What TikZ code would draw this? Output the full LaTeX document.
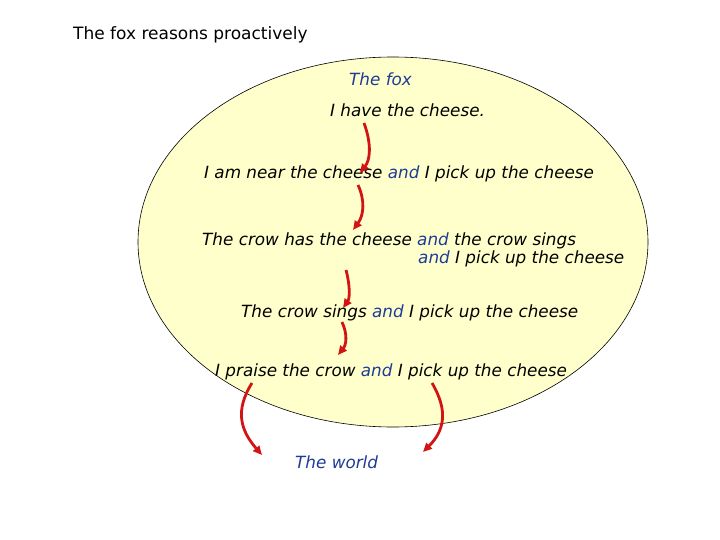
\documentclass[tikz,border=0pt]{standalone}
\usepackage{fontspec}
\setmainfont{DejaVu Sans}
\usetikzlibrary{arrows.meta}
\definecolor{cheese}{RGB}{255,255,204}
\definecolor{andblue}{RGB}{30,60,150}
\definecolor{arrred}{RGB}{210,20,20}
\tikzset{
  txt/.style={anchor=west, inner sep=0pt, font=\fontsize{16.8}{19}\selectfont\itshape},
  ttl/.style={anchor=west, inner sep=0pt, font=\fontsize{17}{19}\selectfont},
  flow/.style={draw=arrred, line width=2.8pt, -{Triangle[length=9pt,width=8pt]}},
}
\newcommand{\andw}{\textcolor{andblue}{and}}
\begin{document}
\begin{tikzpicture}[x=1pt,y=-1pt]
\useasboundingbox (0,0) rectangle (720,540);
\fill[white] (0,0) rectangle (720,540);
\draw[fill=cheese, line width=0.6pt] (393,242) ellipse [x radius=255, y radius=185];
\node[ttl] (title) at (73,35) {The fox reasons proactively};
\node[txt, text=andblue] (fox) at (349,79) {The fox};
\node[txt] (s1) at (330,110) {I have the cheese.};
\node[txt] (s2) at (204,174) {I am near the cheese \andw{} I pick up the cheese};
\node[txt] (s3a) at (202,241) {The crow has the cheese \andw{} the crow sings};
\node[txt] (s3b) at (418,259) {\andw{} I pick up the cheese};
\node[txt] (s4) at (241,313) {The crow sings \andw{} I pick up the cheese};
\node[txt] (s5) at (215,372) {I praise the crow \andw{} I pick up the cheese};
\node[txt, text=andblue] (world) at (295,462) {The world};
\coordinate (p1a) at (364,123); \coordinate (p1b) at (360,173);
\coordinate (p2a) at (358,185); \coordinate (p2b) at (353,230);
\coordinate (p3a) at (346,270); \coordinate (p3b) at (343,308);
\coordinate (p4a) at (342,322); \coordinate (p4b) at (338,355);
\coordinate (p5a) at (252,383); \coordinate (p5b) at (262,455);
\coordinate (p6a) at (432,383); \coordinate (p6b) at (423,452);
\draw[flow] (p1a) .. controls (372,145) and (370,160) .. (p1b);
\draw[flow] (p2a) .. controls (365,200) and (364,215) .. (p2b);
\draw[flow] (p3a) .. controls (350,285) and (350,298) .. (p3b);
\draw[flow] (p4a) .. controls (348,335) and (346,345) .. (p4b);
\draw[flow] (p5a) .. controls (235,410) and (240,430) .. (p5b);
\draw[flow] (p6a) .. controls (448,410) and (445,430) .. (p6b);
\end{tikzpicture}
\end{document}
